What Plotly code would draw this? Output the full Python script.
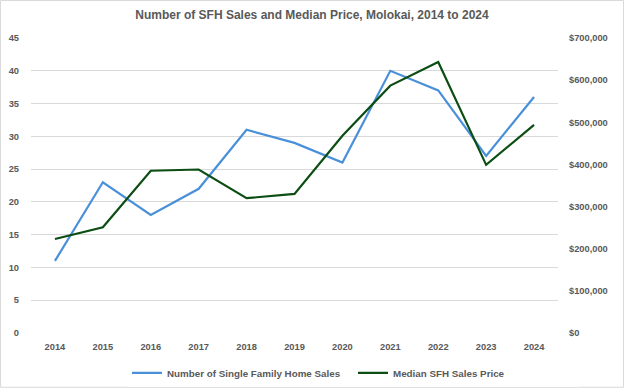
import plotly.graph_objects as go

years = ["2014", "2015", "2016", "2017", "2018", "2019", "2020", "2021", "2022", "2023", "2024"]
sales = [11, 23, 18, 22, 31, 29, 26, 40, 37, 27, 36]
median_price = [223000, 251000, 385000, 388000, 320000, 330000, 468000, 587000, 643000, 399000, 494000]

left_ticks = list(range(0, 50, 5))
right_ticks = list(range(0, 800000, 100000))
right_labels = ["$0"] + ["${:,}".format(v) for v in right_ticks[1:]]

font_family = "Liberation Sans, Arial"
gray = "#595959"
tick_font = dict(family=font_family, size=9.3, color=gray, weight="bold")

fig = go.Figure()
fig.add_trace(go.Scatter(x=years, y=sales, mode="lines", name="Number of Single Family Home Sales",
                         line=dict(color="#4A90D9", width=2.2)))
fig.add_trace(go.Scatter(x=years, y=median_price, mode="lines", name="Median SFH Sales Price",
                         yaxis="y2", line=dict(color="#0B4D12", width=2.2)))

fig.update_layout(
    width=624, height=388,
    margin=dict(l=31, r=66, t=38, b=55, autoexpand=False),
    paper_bgcolor="white", plot_bgcolor="white",
    title=dict(text="Number of SFH Sales and Median Price, Molokai, 2014 to 2024",
               x=0.5, xanchor="center", y=0.963, yanchor="middle",
               font=dict(family=font_family, size=12, color=gray, weight="bold")),
    xaxis=dict(type="category", range=[-0.5, 10.5], showgrid=False, zeroline=False, showline=False,
               ticks="", ticklabelstandoff=7, tickfont=tick_font, automargin=False),
    yaxis=dict(range=[0, 45], tickvals=left_ticks, showgrid=True, gridcolor="#D9D9D9", gridwidth=1,
               zeroline=False, showline=False, ticks="", ticklabelstandoff=11,
               tickfont=tick_font, automargin=False),
    yaxis2=dict(range=[0, 700000], tickvals=right_ticks, ticktext=right_labels, overlaying="y",
                side="right", showgrid=False, zeroline=False, showline=False, ticks="",
                ticklabelstandoff=10, tickfont=tick_font, automargin=False),
    legend=dict(orientation="h", x=0.611, xanchor="center", y=-0.135, yanchor="middle",
                font=dict(family=font_family, size=9.8, color=gray, weight="bold"),
                itemwidth=30, tracegroupgap=0, entrywidth=181, entrywidthmode="pixels"),
    showlegend=True,
    shapes=[dict(type="rect", xref="paper", yref="paper", x0=-0.0578, x1=1.1243, y0=-0.184, y1=1.127,
                 line=dict(color="#D9D9D9", width=1), fillcolor="rgba(0,0,0,0)", layer="below")],
)

fig.write_html("out.html", config={"displayModeBar": False},
               post_script="document.body.style.margin='0';")
